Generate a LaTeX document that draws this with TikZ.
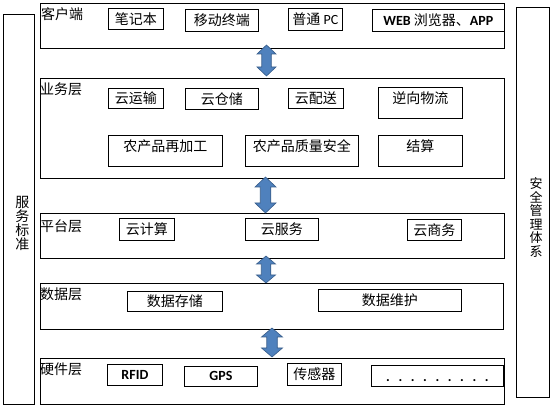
\documentclass[tikz,border=0pt]{standalone}
\usepackage{fontspec}
\setmainfont{Noto Sans CJK SC}
\newfontfamily\lat{Carlito}
\begin{document}
\begin{tikzpicture}[x=1pt,y=-1pt,
  layerbox/.style={draw, line width=0.8pt, anchor=north west, inner sep=0pt},
  itembox/.style={draw, line width=0.8pt, anchor=north west, inner sep=0pt, font=\fontsize{14}{16}\selectfont},
  topbox/.style={itembox, text height=16.5pt, text depth=14.5pt},
  layerlabel/.style={anchor=north west, inner sep=0pt, font=\fontsize{14}{16}\selectfont},
  sidetext/.style={inner sep=0pt, align=center},
  updown/.style={fill={rgb,255:red,79;green,129;blue,189}, draw={rgb,255:red,56;green,93;blue,138}, line width=0.6pt, line join=miter}
]
\useasboundingbox (0,0) rectangle (550,406);
\newcommand\dblarrow[6]{%
  \coordinate (#1) at (#2,{#3+0.5*#4});
  \filldraw[updown] (#2,#3) -- ++(#5,#6) -- ++({-0.5*#5},0) -- ++(0,{#4-2*#6}) -- ++({0.5*#5},0)
    -- ++({-#5},#6) -- ++({-#5},{-#6}) -- ++({0.5*#5},0) -- ++(0,{-(#4-2*#6)}) -- ++({-0.5*#5},0) -- cycle;}

% side boxes
\node[layerbox, minimum width=31pt, minimum height=390pt] (std) at (3,14) {};
\node[layerbox, minimum width=33pt, minimum height=390pt] (sec) at (516,7) {};
\node[sidetext, font=\fontsize{14}{14.25}\selectfont] (stdtxt) at (22.5,223.5) {服\\务\\标\\准};
\node[sidetext, font=\fontsize{13}{13.5}\selectfont] (sectxt) at (536,217.5) {安\\全\\管\\理\\体\\系};

% layer boxes
\node[layerbox, minimum width=464pt, minimum height=45pt] (client) at (40,3) {};
\node[layerbox, minimum width=464pt, minimum height=100pt] (biz) at (40,78) {};
\node[layerbox, minimum width=464pt, minimum height=45pt] (plat) at (40,213) {};
\node[layerbox, minimum width=463pt, minimum height=46pt] (data) at (40,283) {};
\node[layerbox, minimum width=464pt, minimum height=46pt] (hw) at (40,358) {};

\node[layerlabel] (clientlbl) at (41,7) {客户端};
\node[layerlabel] (bizlbl) at (40,83) {业务层};
\node[layerlabel] (platlbl) at (40,219) {平台层};
\node[layerlabel] (datalbl) at (40,288) {数据层};
\node[layerlabel] (hwlbl) at (40,363) {硬件层};

% client items
\node[itembox, minimum width=55pt, minimum height=21pt] (nb) at (108,8) {笔记本};
\node[itembox, minimum width=73pt, minimum height=22pt] (mob) at (185,9) {移动终端};
\node[itembox, minimum width=54pt, minimum height=22pt] (pc) at (288,8) {普通 {\lat PC}};
\node[itembox, minimum width=132pt, minimum height=22pt] (web) at (372,9) {{\lat\bfseries WEB} 浏览器、{\lat\bfseries APP}};

% business items
\node[itembox, minimum width=55pt, minimum height=20pt] (ys) at (108,88) {云运输};
\node[itembox, minimum width=73pt, minimum height=21pt] (yc) at (185,88) {云仓储};
\node[itembox, minimum width=55pt, minimum height=20pt] (yp) at (288,88) {云配送};
\node[topbox, minimum width=84pt] (nx) at (378,87) {逆向物流};
\node[topbox, minimum width=114pt] (jg) at (108,135) {农产品再加工};
\node[topbox, minimum width=113pt] (zl) at (245,135) {农产品质量安全};
\node[topbox, minimum width=84pt] (js) at (378,135) {结算};

% platform items
\node[itembox, minimum width=55pt, minimum height=22pt] (yjs) at (119,218) {云计算};
\node[itembox, minimum width=73pt, minimum height=22pt] (yfw) at (245,218) {云服务};
\node[itembox, minimum width=54pt, minimum height=21pt] (ysw) at (407,219) {云商务};

% data items
\node[itembox, minimum width=95pt, minimum height=20pt] (cc) at (127,291) {数据存储};
\node[itembox, minimum width=143pt, minimum height=22pt] (wh) at (318,289) {数据维护};

% hardware items
\node[itembox, minimum width=55pt, minimum height=21pt] (rfid) at (107,364) {\lat\bfseries RFID};
\node[itembox, minimum width=73pt, minimum height=20pt] (gps) at (184,366) {\lat\bfseries GPS};
\node[itembox, minimum width=54pt, minimum height=22pt] (cgq) at (287,363) {传感器};
\node[itembox, minimum width=132pt, text height=16.5pt, text depth=4.5pt] (more) at (371,365) {\lat\bfseries .\hspace{8.6pt}.\hspace{8.6pt}.\hspace{8.6pt}.\hspace{8.6pt}.\hspace{8.6pt}.\hspace{8.6pt}.\hspace{8.6pt}.\hspace{8.6pt}.};

% arrows between layers
\dblarrow{a1}{266.5}{45}{31}{9.5}{9}
\dblarrow{a2}{265.5}{177}{36}{10.5}{10}
\dblarrow{a3}{266}{256}{27}{9.5}{8}
\dblarrow{a4}{272}{328}{29}{10.5}{9}
\end{tikzpicture}
\end{document}
